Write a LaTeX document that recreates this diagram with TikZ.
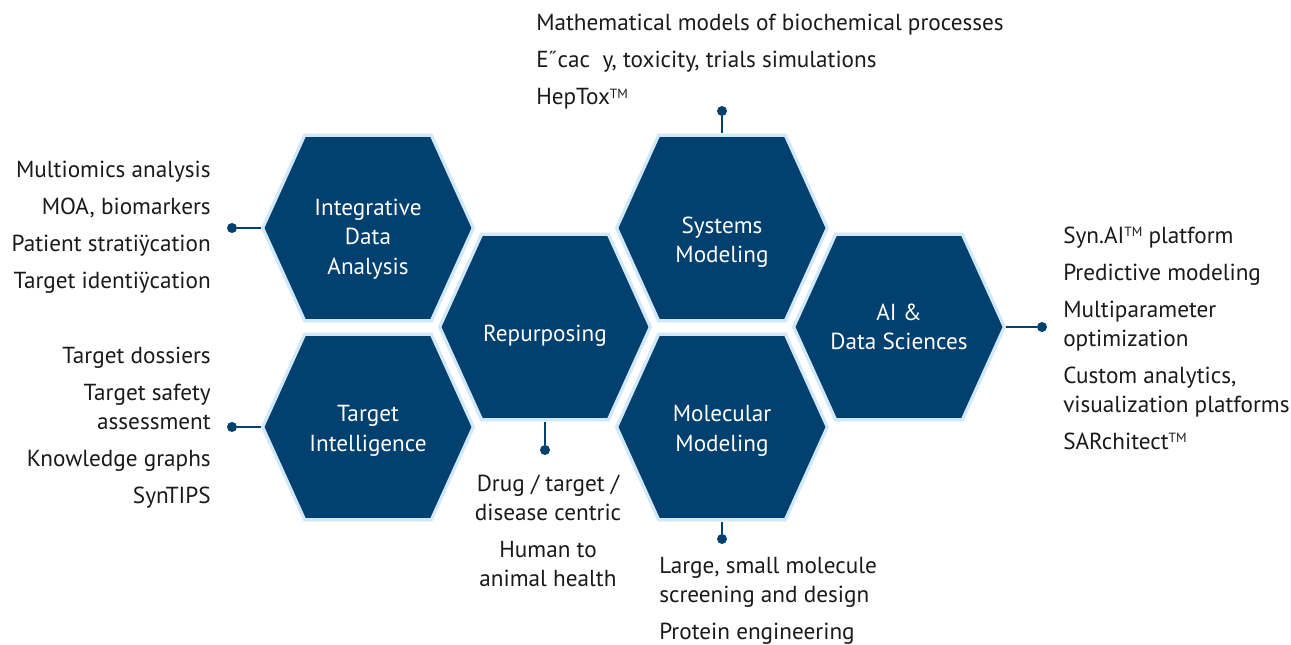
\documentclass[tikz,border=0pt]{standalone}
\usepackage{fontspec}
\setmainfont{PT Sans}
\usepackage{tikz}
\usetikzlibrary{positioning}
\definecolor{hexblue}{RGB}{2,64,111}
\definecolor{hexedge}{RGB}{208,232,248}
\definecolor{listtext}{RGB}{26,26,26}
\newcommand{\tmark}{\raisebox{0.55ex}{\fontsize{10}{10}\selectfont TM}}

\begin{document}
\begin{tikzpicture}[x=0.75pt, y=-0.75pt,
  hex/.style={rectangle, minimum width=160.5pt, minimum height=141.75pt, inner sep=0pt, outer sep=0pt,
    path picture={\path[fill=hexblue, draw=hexedge, line width=2.4pt]
      ([xshift=-79pt]path picture bounding box.center) -- ++(31.5pt,69.6pt) -- ++(95pt,0pt)
      -- ++(31.5pt,-69.6pt) -- ++(-31.5pt,-69.6pt) -- ++(-95pt,0pt) -- cycle;}},
  hexlabel/.style={text=white, align=center, inner sep=0pt, font=\fontsize{17.4}{22}\selectfont},
  enddot/.style={circle, fill=hexblue, inner sep=0pt, minimum size=7.5pt},
  link/.style={draw=hexblue, line width=1.1pt},
  listl/.style={align=left, text=listtext, inner sep=0pt, font=\fontsize{17.4}{21.75}\selectfont},
  listr/.style={listl, align=right},
  listc/.style={listl, align=center}]
  \useasboundingbox[fill=white] (0,0) rectangle (1291,645);

  % hexagons
  \node[hex, label={[hexlabel, yshift=-8.25pt]center:Integrative\\Data\\Analysis}] (ida) at (368,228) {};
  \node[hex, label={[hexlabel, yshift=-3pt]center:Target\\Intelligence}] (ti) at (368,427) {};
  \node[hex, label={[hexlabel, yshift=-6.75pt]center:Repurposing}] (rep) at (545,327) {};
  \node[hex, label={[hexlabel, yshift=-10.5pt]center:Systems\\Modeling}] (sm) at (722,228) {};
  \node[hex, label={[hexlabel, yshift=-3pt]center:Molecular\\Modeling}] (mm) at (722,427) {};
  \node[hex, label={[hexlabel]center:AI \&\\Data Sciences}] (ai) at (899,327) {};

  % pins
  \node[enddot] (idadot) at (232,228) {};
  \node[enddot] (tidot) at (232,427) {};
  \node[enddot] (repdot) at (545,450) {};
  \node[enddot] (smdot) at (722,111) {};
  \node[enddot] (mmdot) at (722,539) {};
  \node[enddot] (aidot) at (1042,327) {};
  \draw[link] (idadot) -- (ida.west);
  \draw[link] (tidot) -- (ti.west);
  \draw[link] (repdot) -- (rep.south);
  \draw[link] (smdot) -- (sm.north);
  \draw[link] (mmdot) -- (mm.south);
  \draw[link] (aidot) -- (ai.east);

  % lists
  \node[listr, anchor=east] (idalist) at (211,227) {Multiomics analysis\\[6pt]MOA, biomarkers\\[6pt]Patient stratiÿcation\\[6pt]Target identiÿcation};
  \node[listr, anchor=east] (tilist) at (211,428) {Target dossiers\\[6pt]Target safety\\assessment\\[6pt]Knowledge graphs\\[6pt]SynTIPS};
  \node[listl, anchor=west] (smlist) at (536,61.5) {Mathematical models of biochemical processes\\[6pt]E˝cac~~y, toxicity, trials simulations\\[6pt]HepTox\tmark};
  \node[listl, anchor=west] (ailist) at (1063,338) {Syn.AI\tmark{} platform\\[6pt]Predictive modeling\\[6pt]Multiparameter\\optimization\\[6pt]Custom analytics,\\visualization platforms\\[6pt]SARchitect\tmark};
  \node[listc, anchor=center] (replist) at (548,531) {Drug / target /\\disease centric\\[6pt]Human to\\animal health};
  \node[listl, anchor=west] (mmlist) at (659,601) {Large, small molecule\\screening and design\\[6pt]Protein engineering};
\end{tikzpicture}
\end{document}
